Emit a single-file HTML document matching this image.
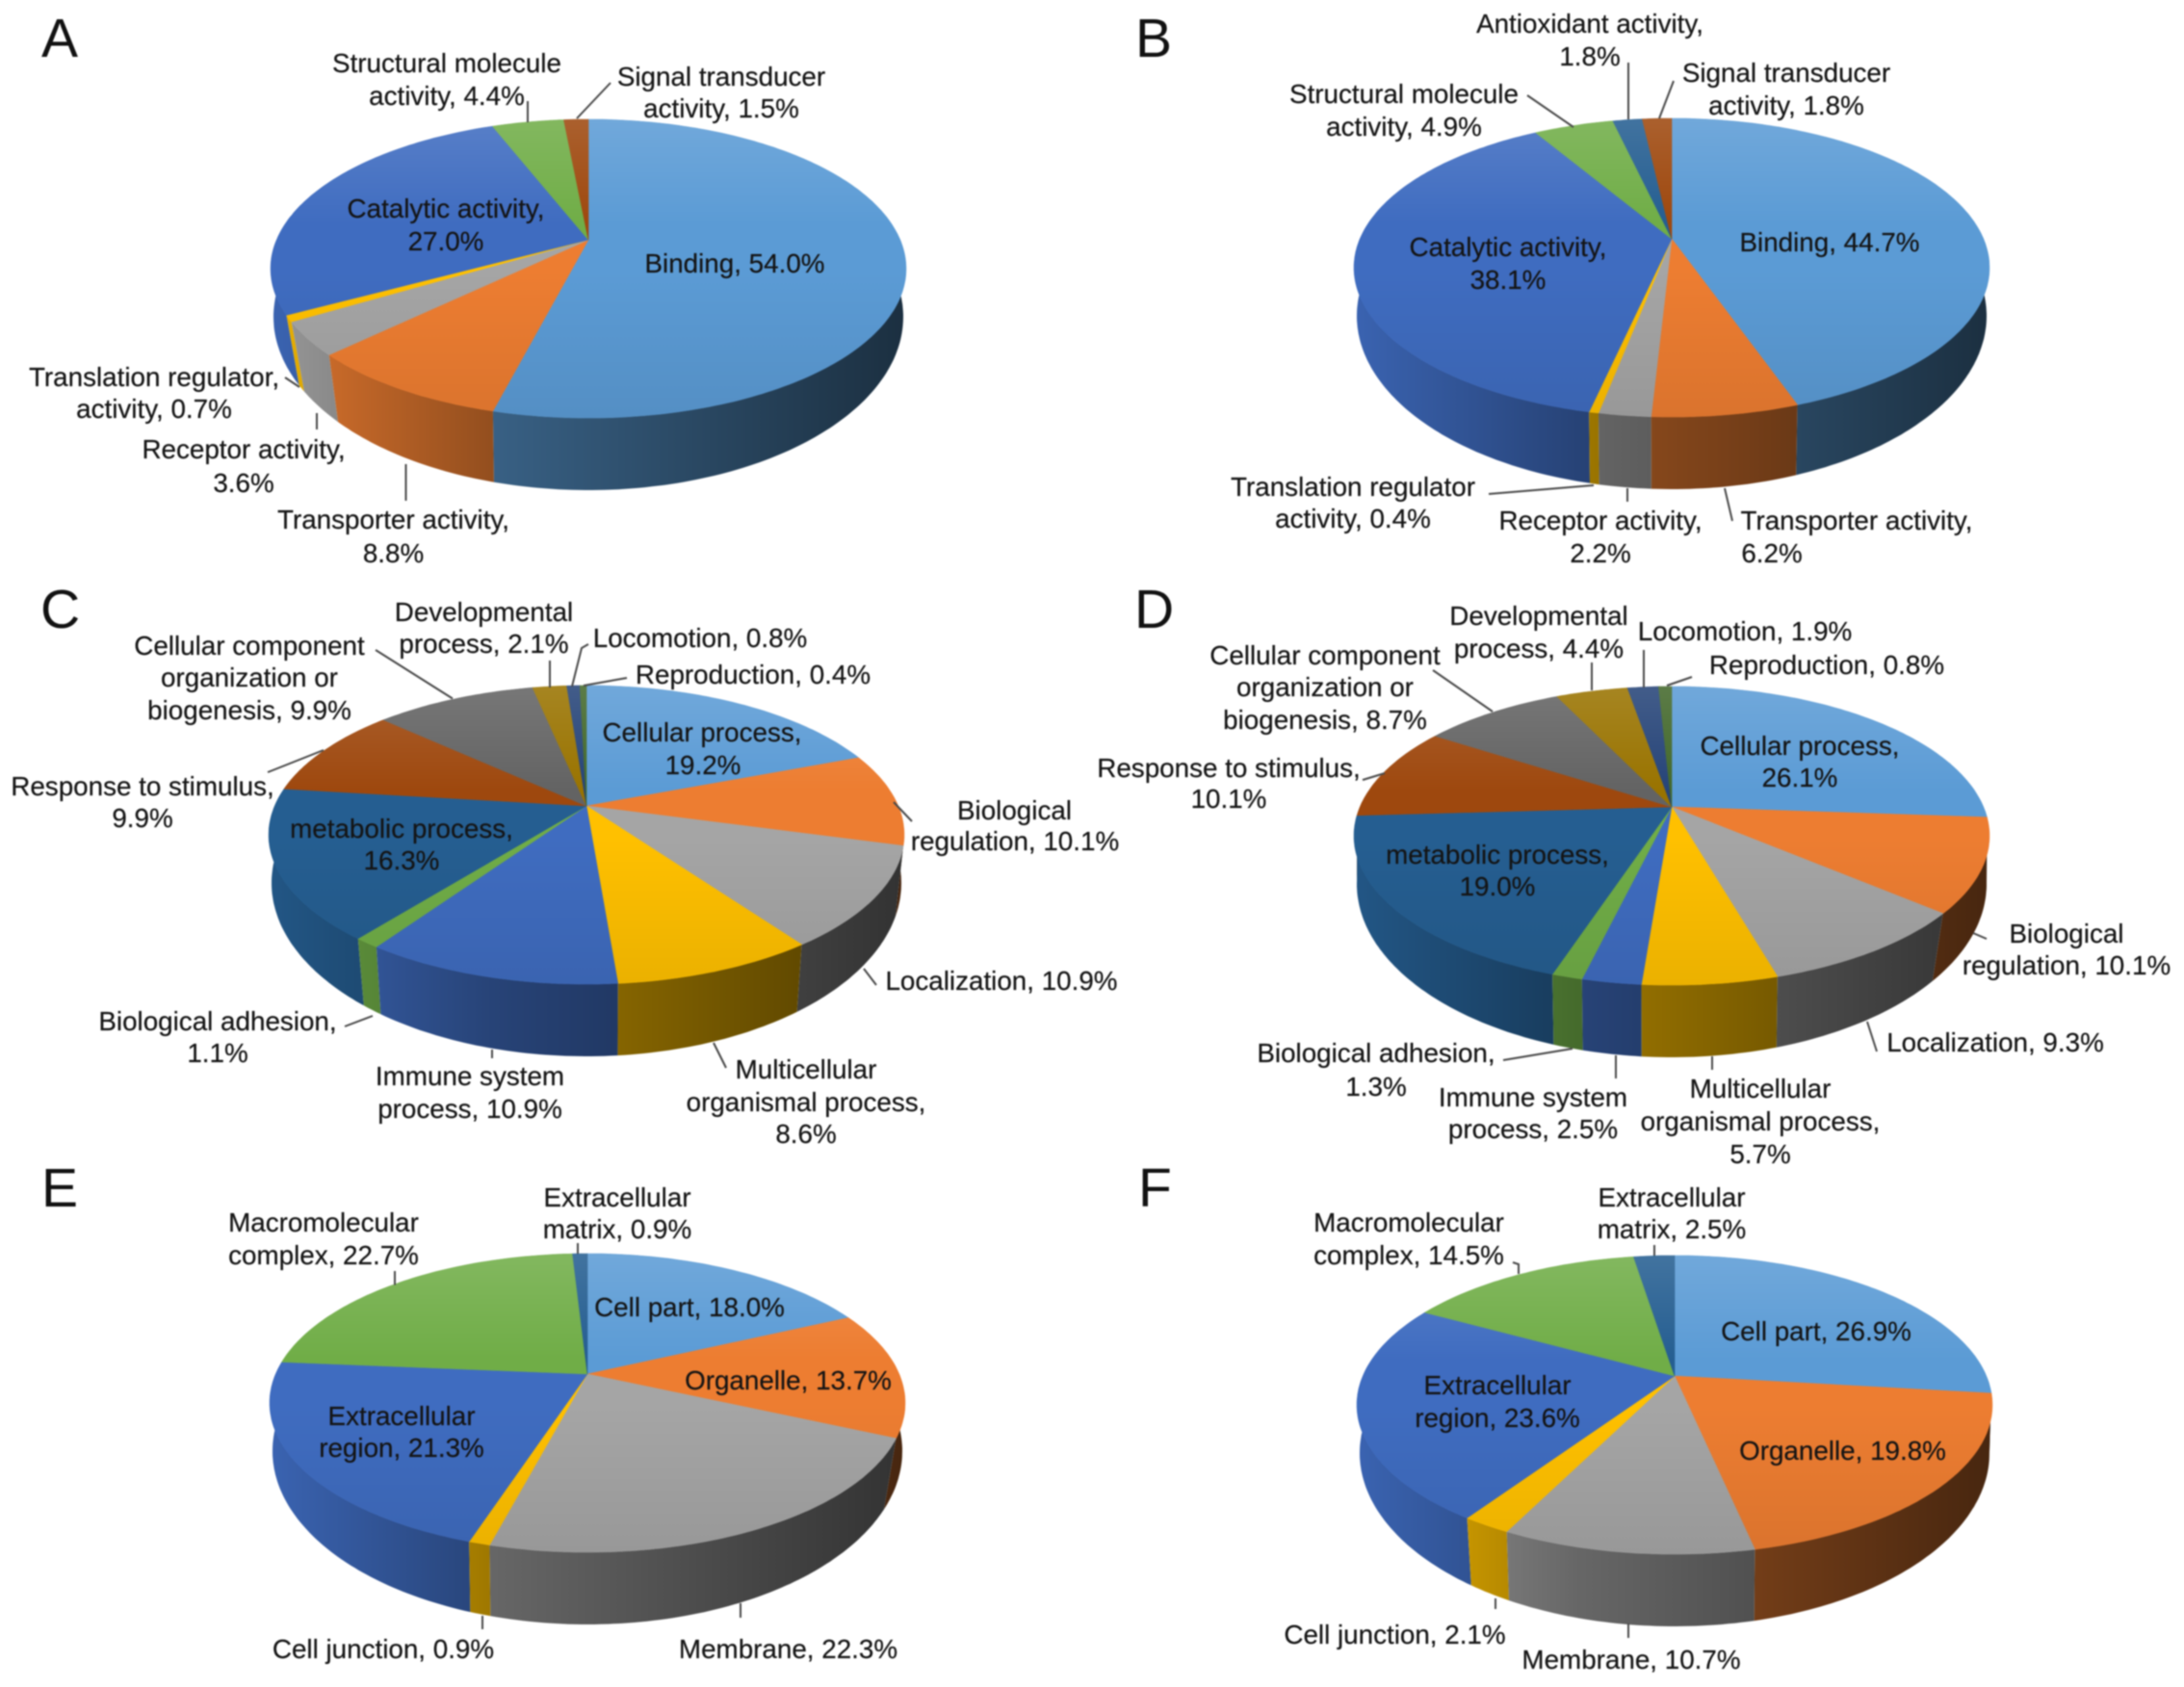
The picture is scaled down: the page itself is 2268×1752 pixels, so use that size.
<!DOCTYPE html>
<html lang="en">
<head>
<meta charset="utf-8">
<title>Gene ontology 3D pie charts</title>
<style>
html,body{margin:0;padding:0;background:#fff;width:2268px;height:1752px;overflow:hidden}
svg{display:block;filter:blur(0.8px)}
text{font-family:"Liberation Sans",Arial,sans-serif;font-size:27.8px;fill:#141414;stroke:#141414;stroke-width:0.2px;text-anchor:middle}
.panel-letter{font-size:57px;fill:#111;stroke:none;text-anchor:start}
.leader{stroke:#4a4a4a;stroke-width:2;fill:none}
</style>
</head>
<body>
<svg id="figure" xmlns="http://www.w3.org/2000/svg" width="2268" height="1752" viewBox="0 0 2268 1752">
  <defs id="defs"></defs>
  <rect x="0" y="0" width="2268" height="1752" fill="#fff"/>
  <text class="panel-letter" x="43" y="59">A</text>
  <text class="panel-letter" x="1179" y="59">B</text>
  <text class="panel-letter" x="42" y="652">C</text>
  <text class="panel-letter" x="1178" y="652">D</text>
  <text class="panel-letter" x="43" y="1253">E</text>
  <text class="panel-letter" x="1182" y="1253">F</text>
</svg>
<script>
// ---------- Chart data ----------
const categoriesA = ["Binding","Transporter activity","Receptor activity","Translation regulator activity","Catalytic activity","Structural molecule activity","Signal transducer activity"];
const valuesA = [54.0,8.8,3.6,0.7,27.0,4.4,1.5];
const categoriesB = ["Binding","Transporter activity","Receptor activity","Translation regulator activity","Catalytic activity","Structural molecule activity","Antioxidant activity","Signal transducer activity"];
const valuesB = [44.7,6.2,2.2,0.4,38.1,4.9,1.8,1.8];
const categoriesC = ["Cellular process","Biological regulation","Localization","Multicellular organismal process","Immune system process","Biological adhesion","metabolic process","Response to stimulus","Cellular component organization or biogenesis","Developmental process","Locomotion","Reproduction"];
const valuesC = [19.2,10.1,10.9,8.6,10.9,1.1,16.3,9.9,9.9,2.1,0.8,0.4];
const categoriesD = categoriesC.slice();
const valuesD = [26.1,10.1,9.3,5.7,2.5,1.3,19.0,10.1,8.7,4.4,1.9,0.8];
const categoriesE = ["Cell part","Organelle","Membrane","Cell junction","Extracellular region","Macromolecular complex","Extracellular matrix"];
const valuesE = [18.0,13.7,22.3,0.9,21.3,22.7,0.9];
const categoriesF = categoriesE.slice();
const valuesF = [26.9,19.8,10.7,2.1,23.6,14.5,2.5];

// ---------- Series colours ----------
const colorsABCDE = ["#5B9BD5","#ED7D31","#A5A5A5","#FFC000","#3F6CC0","#70AD47","#255E91","#9E480E","#636363","#997300","#264478","#43682B"];
const colorsA = ["#5B9BD5","#ED7D31","#A5A5A5","#FFC000","#3F6CC0","#70AD47","#9E480E"];
const colorsB = ["#5B9BD5","#ED7D31","#A5A5A5","#FFC000","#3F6CC0","#70AD47","#255E91","#9E480E"];

// ---------- Label layout: [centre x, baseline y, text]; {v} is the slice value ----------
const labelsA = [
 [[763,283,"Binding, {v}"]],
 [[408.5,549,"Transporter activity,"],[408.5,584,"{v}"]],
 [[253,476,"Receptor activity,"],[253,511,"{v}"]],
 [[160,401,"Translation regulator,"],[160,434,"activity, {v}"]],
 [[463,226,"Catalytic activity,"],[463,260,"{v}"]],
 [[464,75,"Structural molecule"],[464,109,"activity, {v}"]],
 [[749,89,"Signal transducer"],[749,122,"activity, {v}"]]
];
const labelsB = [
 [[1900,261,"Binding, {v}"]],
 [[1928,550,"Transporter activity,"],[1840,584,"{v}"]],
 [[1662,550,"Receptor activity,"],[1662,584,"{v}"]],
 [[1405,515,"Translation regulator"],[1405,548,"activity, {v}"]],
 [[1566,266,"Catalytic activity,"],[1566,300,"{v}"]],
 [[1458,107,"Structural molecule"],[1458,141,"activity, {v}"]],
 [[1651,34,"Antioxidant activity,"],[1651,68,"{v}"]],
 [[1855,85,"Signal transducer"],[1855,119,"activity, {v}"]]
];
const labelsC = [
 [[729,770,"Cellular process,"],[730,804,"{v}"]],
 [[1053.5,851,"Biological"],[1054,883,"regulation, {v}"]],
 [[1040,1028,"Localization, {v}"]],
 [[837,1120,"Multicellular"],[837,1154,"organismal process,"],[837,1187,"{v}"]],
 [[488,1127,"Immune system"],[488,1161,"process, {v}"]],
 [[226,1070,"Biological adhesion,"],[226,1103,"{v}"]],
 [[417,870,"metabolic process,"],[417,903,"{v}"]],
 [[148,826,"Response to stimulus,"],[148,859,"{v}"]],
 [[259,680,"Cellular component"],[259,713,"organization or"],[259,747,"biogenesis, {v}"]],
 [[502.5,645,"Developmental"],[502.5,678,"process, {v}"]],
 [[727,672,"Locomotion, {v}"]],
 [[782,710,"Reproduction, {v}"]]
];
const labelsD = [
 [[1869,784,"Cellular process,"],[1869,817,"{v}"]],
 [[2146,979,"Biological"],[2146,1012,"regulation, {v}"]],
 [[2072,1092,"Localization, {v}"]],
 [[1828,1140,"Multicellular"],[1828,1174,"organismal process,"],[1828,1208,"{v}"]],
 [[1592,1149,"Immune system"],[1592,1182,"process, {v}"]],
 [[1429,1103,"Biological adhesion,"],[1429,1138,"{v}"]],
 [[1555,897,"metabolic process,"],[1555,930,"{v}"]],
 [[1276,807,"Response to stimulus,"],[1276,839,"{v}"]],
 [[1376,690,"Cellular component"],[1376,723,"organization or"],[1376,757,"biogenesis, {v}"]],
 [[1598,649,"Developmental"],[1598,683,"process, {v}"]],
 [[1812,665,"Locomotion, {v}"]],
 [[1897,700,"Reproduction, {v}"]]
];
const labelsE = [
 [[716,1367,"Cell part, {v}"]],
 [[818.5,1443,"Organelle, {v}"]],
 [[818.5,1722,"Membrane, {v}"]],
 [[398,1722,"Cell junction, {v}"]],
 [[417,1480,"Extracellular"],[417,1513,"region, {v}"]],
 [[336,1279,"Macromolecular"],[336,1313,"complex, {v}"]],
 [[641,1253,"Extracellular"],[641,1286,"matrix, {v}"]]
];
const labelsF = [
 [[1886,1392,"Cell part, {v}"]],
 [[1913.5,1516,"Organelle, {v}"]],
 [[1694,1733,"Membrane, {v}"]],
 [[1448.5,1707,"Cell junction, {v}"]],
 [[1555,1448,"Extracellular"],[1555,1482,"region, {v}"]],
 [[1463,1279,"Macromolecular"],[1463,1313,"complex, {v}"]],
 [[1736,1253,"Extracellular"],[1736,1286,"matrix, {v}"]]
];

// ---------- Leader line layout ----------
const leadersA = [
 [[548,105],[548,127]],[[634,86],[599,123]],[[296,392],[311,402]],[[329,429],[329,446]],[[421.5,482],[421.5,520]]
];
const leadersB = [
 [[1586,99],[1634,132]],[[1691,65],[1691,124]],[[1738,84],[1723,123]],[[1546,513],[1655,504]],[[1690,507],[1690,521]],[[1791,507],[1799,541]]
];
const leadersC = [
 [[390,675],[470,725.5]],[[571,686],[571,714]],[[611,669],[604,673],[594,713]],[[651,704],[606,712]],[[278,802],[336,779]],
 [[947,853],[928,833]],[[910,1023],[897,1006]],[[754,1109],[741,1083]],[[511,1099],[511,1090]],[[358,1066],[387,1055]]
];
const leadersD = [
 [[1488,696],[1550,739]],[[1653,688],[1653,717]],[[1707,675],[1707,714]],[[1757,703],[1731,712]],[[1415,810],[1438,803]],
 [[2063,975],[2049,969]],[[1949,1092],[1939,1061]],[[1778,1111],[1778,1097]],[[1678,1120],[1678,1096]],[[1561,1101],[1633,1089]]
];
const leadersE = [
 [[600,1291],[600,1302]],[[410,1320],[410,1334.5]],[[501,1678],[501,1692]],[[769,1665],[769,1680]]
];
const leadersF = [
 [[1718,1293],[1718,1304]],[[1571,1311],[1577,1313],[1577,1323]],[[1553,1660],[1553,1671]],[[1691,1686],[1691,1701]]
];

// ---------- Pie geometry ----------
const NS = "http://www.w3.org/2000/svg";
const svg = document.getElementById("figure");
const defs = document.getElementById("defs");
const PERSPECTIVE = 0.1935, RADIUS_X = 323.7, RADIUS_Y = 149.2;
const TOP_SEMI_X = 330, TOP_SEMI_Y = 155, TOP_CENTER = 30;
const BOTTOM_SEMI_X = 327, BOTTOM_SEMI_Y = 180, BOTTOM_CENTER = 80;

function radialToScreen(apex, deg, isBottom) {
  const t = deg * Math.PI / 180;
  const w = 1 + PERSPECTIVE * Math.cos(t);
  const dx = RADIUS_X * Math.sin(t) / w;
  const dy = -RADIUS_Y * Math.cos(t) / w;
  if (!isBottom) return [apex[0] + dx, apex[1] + dy];
  // lower rim: locate the rim point on its own ellipse, nudged towards the front near the sides
  const alpha = Math.atan2(dx / TOP_SEMI_X, (TOP_CENTER - dy) / TOP_SEMI_Y);
  const nudge = 7 * Math.PI / 180 * Math.pow(Math.sin(alpha), 6);
  const psi = alpha >= 0 ? alpha + nudge : alpha - nudge;
  return [apex[0] + BOTTOM_SEMI_X * Math.sin(psi), apex[1] + BOTTOM_CENTER - BOTTOM_SEMI_Y * Math.cos(psi)];
}
function valueToAngle(values) {
  const total = values.reduce((a, b) => a + b, 0);
  let run = 0;
  return values.map(v => { const s = run; run += v; return [s / total * 360, run / total * 360]; });
}
function arcPoints(apex, a0, a1, isBottom) {
  const pts = [];
  const n = Math.max(2, Math.ceil(Math.abs(a1 - a0)));
  for (let i = 0; i <= n; i++) pts.push(radialToScreen(apex, a0 + (a1 - a0) * i / n, isBottom));
  return pts;
}
function toPath(pts) {
  return "M" + pts.map(p => p[0].toFixed(1) + " " + p[1].toFixed(1)).join("L") + "Z";
}
function shade(hex, m) {
  const c = [1, 3, 5].map(i => Math.min(255, Math.round(parseInt(hex.substr(i, 2), 16) * m)));
  return "rgb(" + c.join(",") + ")";
}
function slug(s) {
  return s.toLowerCase().replace(/[^a-z0-9]+/g, "-").replace(/^-|-$/g, "");
}
function make(tag, attrs, parent) {
  const el = document.createElementNS(NS, tag);
  for (const k in attrs) el.setAttribute(k, attrs[k]);
  parent.appendChild(el);
  return el;
}

// Shared light-to-dark sheen for the top faces
const sheen = make("linearGradient", {id: "sheen", x1: 0, y1: 0, x2: 0, y2: 1}, defs);
[[0, "#fff", 0.13], [0.35, "#fff", 0.0], [0.5, "#000", 0], [1, "#000", 0.08]].forEach(s => {
  make("stop", {offset: s[0], "stop-color": s[1], "stop-opacity": s[2]}, sheen);
});

function drawPie(id, apex, categories, values, colors, labels, leaders) {
  const group = make("g", {}, svg);
  
  
  const angles = valueToAngle(values);

  // side walls: back to front
  const order = values.map((_, i) => i).sort((a, b) => {
    const ma = Math.abs((angles[a][0] + angles[a][1]) / 2 - 180);
    const mb = Math.abs((angles[b][0] + angles[b][1]) / 2 - 180);
    return mb - ma;
  });
  order.forEach(i => {
    const gid = "side-" + id + "-" + i;
    const g = make("linearGradient", {id: gid, gradientUnits: "userSpaceOnUse", x1: apex[0] - 330, y1: 0, x2: apex[0] + 330, y2: 0}, defs);
    [[0, 0.92], [0.35, 0.62], [1, 0.3]].forEach(s => {
      make("stop", {offset: s[0], "stop-color": shade(colors[i], s[1])}, g);
    });
    const top = arcPoints(apex, angles[i][0], angles[i][1], false);
    const bottom = arcPoints(apex, angles[i][1], angles[i][0], true);
    const side = make("path", {d: toPath(top.concat(bottom)), fill: "url(#" + gid + ")"}, group);
    
    
  });

  // top faces
  values.forEach((v, i) => {
    const pts = [apex].concat(arcPoints(apex, angles[i][0], angles[i][1], false));
    const face = make("path", {d: toPath(pts), fill: colors[i], stroke: colors[i], "stroke-width": 0.6}, group);
    
    
  });
  const overlay = make("path", {d: toPath(arcPoints(apex, 0, 360, false)), fill: "url(#sheen)"}, group);
  
  

  // leader lines
  leaders.forEach((pts, i) => {
    const line = make("polyline", {"class": "leader", points: pts.map(p => p.join(",")).join(" ")}, group);
    
    
  });

  // labels
  labels.forEach((lines, i) => {
    lines.forEach(l => {
      const t = make("text", {x: l[0], y: l[1]}, group);
      
      
      t.textContent = l[2].replace("{v}", values[i].toFixed(1) + "%");
    });
  });
}

drawPie("a", [611, 249], categoriesA, valuesA, colorsA, labelsA, leadersA);
drawPie("b", [1736, 248], categoriesB, valuesB, colorsB, labelsB, leadersB);
drawPie("c", [609, 837], categoriesC, valuesC, colorsABCDE, labelsC, leadersC);
drawPie("d", [1736, 838], categoriesD, valuesD, colorsABCDE, labelsD, leadersD);
drawPie("e", [610, 1427], categoriesE, valuesE, colorsABCDE, labelsE, leadersE);
drawPie("f", [1739, 1429], categoriesF, valuesF, colorsABCDE, labelsF, leadersF);
</script>
</body>
</html>
